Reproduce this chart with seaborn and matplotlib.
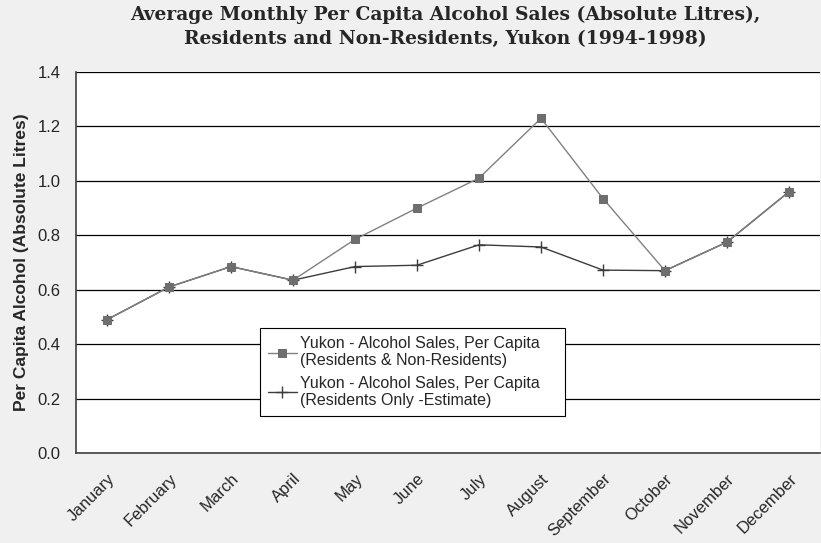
import matplotlib
matplotlib.use("Agg")
import matplotlib.pyplot as plt
import seaborn as sns
import pandas as pd
import numpy as np

months = ["January", "February", "March", "April", "May", "June", "July",
          "August", "September", "October", "November", "December"]
res_nonres = [0.49, 0.61, 0.685, 0.635, 0.785, 0.90, 1.01, 1.23, 0.935, 0.67, 0.775, 0.96]
res_only = [0.49, 0.61, 0.685, 0.635, 0.685, 0.69, 0.765, 0.757, 0.672, 0.67, 0.775, 0.96]
label1 = "Yukon - Alcohol Sales, Per Capita\n(Residents & Non-Residents)"
label2 = "Yukon - Alcohol Sales, Per Capita\n(Residents Only -Estimate)"
yticks = [0.0, 0.2, 0.4, 0.6, 0.8, 1.0, 1.2, 1.4]

sns.set_style("white")
plt.rcParams['font.family'] = ['Liberation Sans', 'DejaVu Sans']

df = pd.DataFrame({"Month": months, "A": res_nonres, "B": res_only})

fig = plt.figure(figsize=(8.21, 5.43), dpi=100, facecolor="#f0f0f0")
ax = fig.add_axes([76/821, 90/543, 744/821, 381/543])
ax.set_facecolor("white")

sns.lineplot(data=df, x="Month", y="B", ax=ax, color="#3c3c3c", lw=1.0,
             marker="+", markersize=8, markeredgecolor="#3c3c3c",
             markeredgewidth=1.0, label=label2, sort=False)
sns.lineplot(data=df, x="Month", y="A", ax=ax, color="#808080", lw=1.0,
             marker="s", markersize=6, markerfacecolor="#6e6e6e",
             markeredgecolor="#6e6e6e", label=label1, sort=False)

ax.set_xlim(-0.5, 11.5)
ax.set_ylim(0, 1.4)
ax.set_yticks(yticks)
ax.set_yticklabels([f"{v:.1f}" for v in yticks], fontsize=12)
ax.yaxis.grid(True, color="black", lw=0.9)
ax.set_axisbelow(True)

ax.set_xticks(np.arange(12))
ax.set_xticklabels(months, rotation=45, ha="right", rotation_mode="anchor", fontsize=12)
ax.set_xticks(np.arange(-0.5, 12.0, 1.0), minor=True)
ax.tick_params(axis="x", which="major", length=0, pad=13)
ax.tick_params(axis="x", which="minor", length=5, width=1, color="#404040", direction="out")
ax.tick_params(axis="y", which="major", length=5, width=1, color="#404040", direction="out", pad=6)

for s in ["top", "right"]:
    ax.spines[s].set_visible(False)
for s in ["left", "bottom"]:
    ax.spines[s].set_color("#404040")
    ax.spines[s].set_linewidth(1.2)

ax.set_xlabel("")
ax.set_ylabel("Per Capita Alcohol (Absolute Litres)", fontsize=12.5, fontweight="bold", labelpad=6)

handles, labels = ax.get_legend_handles_labels()
leg = ax.legend(handles[::-1], labels[::-1], loc="lower left",
                bbox_to_anchor=((260-76)/744, (453-416)/381, (565-260)/744, (416-313)/381),
                mode="expand", fontsize=11.5, frameon=True, fancybox=False, framealpha=1,
                edgecolor="black", handlelength=1.8, handletextpad=0.2, borderpad=0.5,
                labelspacing=0.45, borderaxespad=0)
leg.get_frame().set_linewidth(0.8)

fig.text(0.542, 0.99, "Average Monthly Per Capita Alcohol Sales (Absolute Litres),\nResidents and Non-Residents, Yukon (1994-1998)",
         ha="center", va="top", fontsize=13.5, fontweight="bold", family="DejaVu Serif",
         linespacing=1.45)

fig.savefig("out.png", dpi=100, facecolor=fig.get_facecolor())
